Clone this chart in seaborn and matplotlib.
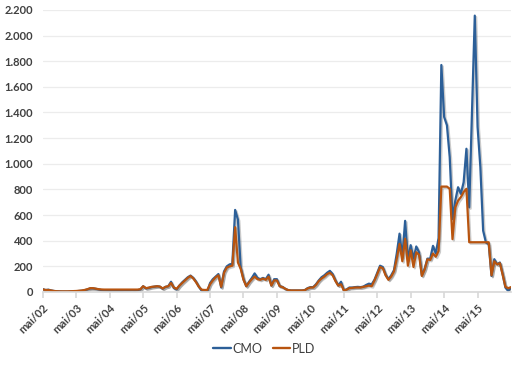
import numpy as np
import pandas as pd
import matplotlib
matplotlib.use("Agg")
import matplotlib.pyplot as plt
import matplotlib.patheffects as pe
import seaborn as sns

# monthly values, starting mai/02
cmo = [22, 15, 18, 12, 8, 6, 5, 4, 4, 4, 5, 5,
       6, 8, 10, 14, 20, 28, 28, 25, 20, 15, 12, 10,
       8, 8, 8, 8, 8, 10, 10, 10, 12, 10, 14, 20,
       45, 28, 32, 38, 42, 45, 42, 25, 40, 45, 80, 30,
       20, 50, 75, 95, 115, 128, 110, 80, 40, 10, 2, 3,
       70, 100, 120, 140, 35, 160, 200, 215, 220, 640, 565, 190,
       100, 45, 80, 110, 145, 110, 100, 110, 100, 135, 50, 100,
       100, 45, 40, 25, 15, 12, 12, 12, 12, 12, 15, 30,
       38, 38, 60, 90, 115, 130, 150, 165, 140, 90, 50, 80,
       13, 20, 35, 35, 38, 40, 38, 42, 55, 65, 60, 95,
       150, 205, 195, 135, 100, 130, 170, 300, 455, 270, 555, 250,
       365, 260, 355, 310, 130, 180, 260, 260, 360, 300, 420, 1770,
       1365, 1300, 1052, 569, 712, 817, 765, 856, 1117, 660, 1400, 2155,
       1287, 973, 478, 386, 373, 125, 256, 216, 230, 138, 34, 8,
       34]

pld = [20, 16, 16, 12, 8, 6, 5, 5, 5, 5, 6, 7,
       8, 10, 12, 16, 22, 30, 30, 26, 22, 20, 19, 19,
       19, 19, 19, 19, 19, 19, 19, 19, 19, 19, 19, 22,
       45, 30, 34, 40, 42, 45, 42, 28, 40, 45, 70, 35,
       25, 50, 70, 90, 110, 125, 105, 75, 40, 18, 16, 16,
       60, 90, 115, 130, 40, 150, 190, 200, 205, 505, 230, 180,
       95, 45, 75, 100, 120, 100, 95, 105, 95, 120, 50, 90,
       90, 45, 38, 25, 15, 12, 12, 12, 12, 12, 14, 28,
       35, 35, 55, 85, 105, 120, 140, 150, 130, 85, 50, 60,
       12, 18, 30, 32, 35, 35, 35, 40, 45, 50, 45, 90,
       140, 195, 185, 130, 95, 120, 160, 260, 375, 240, 415, 205,
       325, 195, 310, 290, 125, 175, 255, 250, 300, 275, 320, 822,
       822, 822, 805, 412, 660, 712, 740, 780, 805, 388, 388, 388,
       388, 388, 388, 388, 388, 130, 240, 215, 225, 135, 40, 30,
       38]

tick_labels = ["mai/02", "mai/03", "mai/04", "mai/05", "mai/06", "mai/07", "mai/08",
               "mai/09", "mai/10", "mai/11", "mai/12", "mai/13", "mai/14", "mai/15"]
y_labels = ["0", "200", "400", "600", "800", "1.000", "1.200", "1.400",
            "1.600", "1.800", "2.000", "2.200"]

n = len(cmo)
df = pd.DataFrame({
    "mes": list(range(n)) * 2,
    "valor": cmo + pld,
    "serie": ["CMO"] * n + ["PLD"] * n,
})

sns.set_theme(style="white")
plt.rcParams["font.family"] = ["Lato", "DejaVu Sans"]

fig = plt.figure(figsize=(5.29, 3.65), dpi=100)
ax = fig.add_axes([0.081, 0.2, 0.885, 0.773])

cores = {"CMO": "#2c5f98", "PLD": "#b8540f"}
sns.lineplot(data=df, x="mes", y="valor", hue="serie", palette=cores,
             linewidth=1.6, ax=ax, legend=False)

for line in ax.lines:
    line.set_path_effects([pe.SimpleLineShadow(offset=(1.0, -1.0), shadow_color="#555555", alpha=0.3),
                           pe.Normal()])

ax.set_xlim(0, n - 1)
ax.set_ylim(0, 2200)
yt = np.arange(0, 2201, 200)
ax.set_yticks(yt)
ax.set_yticklabels(y_labels, fontsize=8, fontweight="bold", color="#404040")
ax.set_xticks(np.arange(0, 12 * len(tick_labels), 12))
ax.set_xticklabels(tick_labels, rotation=45, ha="right", rotation_mode="anchor",
                   fontsize=8, fontweight="bold", color="#404040")
ax.tick_params(axis="x", length=4, color="#d9d9d9", pad=3, bottom=True)
ax.tick_params(axis="y", length=0, pad=7)
ax.yaxis.grid(True, color="#ececec", linewidth=0.9)
ax.set_axisbelow(True)
for s in ["top", "right", "left"]:
    ax.spines[s].set_visible(False)
ax.spines["bottom"].set_color("#d9d9d9")
ax.set_xlabel("")
ax.set_ylabel("")

handles = [plt.Line2D([], [], color=cores[k], linewidth=1.7) for k in ["CMO", "PLD"]]
fig.legend(handles, ["CMO", "PLD"], loc="center", bbox_to_anchor=(0.5, 0.045), ncol=2,
           frameon=False, fontsize=9, handlelength=1.4, handletextpad=0.15,
           columnspacing=0.8, labelcolor="#404040")

fig.savefig("out.png", dpi=100)
